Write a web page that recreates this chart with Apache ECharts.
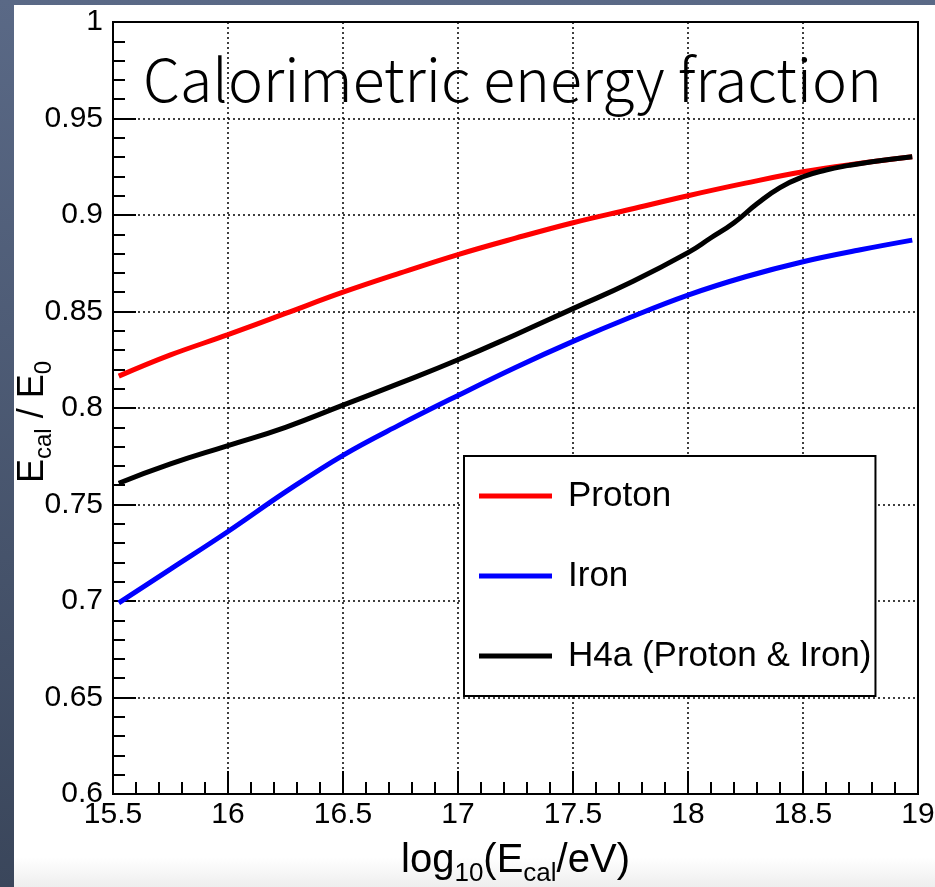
<!DOCTYPE html>
<html>
<head>
<meta charset="utf-8">
<script src="https://cdn.jsdelivr.net/npm/echarts@6/dist/echarts.min.js"></script>
<style>
  html, body { margin: 0; padding: 0; width: 935px; height: 887px; overflow: hidden; }
  body { background: linear-gradient(to bottom, #5a6986 0%, #3a465b 100%); position: relative; }
  #panel { position: absolute; left: 14px; top: 5px; width: 921px; height: 882px;
           background: linear-gradient(to bottom, #ffffff 0px, #ffffff 852px, #eeeeee 882px); }
  #chart { position: absolute; left: 0; top: 0; width: 935px; height: 887px; }
</style>
</head>
<body>
<div id="panel"></div>
<div id="chart"></div>
<script>
// ---- data ----
const xTicksMin = 15.5, xTicksMax = 19, xInterval = 0.5;
const yTicksMin = 0.6, yTicksMax = 1.0, yInterval = 0.05;

const protonX = [15.525, 15.75, 16.0, 16.25, 16.5, 16.75, 17.0, 17.25, 17.5, 17.75, 18.0, 18.25, 18.5, 18.75, 18.975];
const protonY = [0.8165, 0.8275, 0.838, 0.849, 0.8600, 0.870, 0.8795, 0.888, 0.896, 0.903, 0.910, 0.9165, 0.9224, 0.9268, 0.9302];

const ironX = [15.525, 15.75, 16.0, 16.25, 16.5, 16.75, 17.0, 17.25, 17.5, 17.75, 18.0, 18.25, 18.5, 18.75, 18.975];
const ironY = [0.699, 0.7165, 0.736, 0.7565, 0.7755, 0.7915, 0.8065, 0.821, 0.8345, 0.847, 0.8585, 0.868, 0.8758, 0.882, 0.887];

const h4aX = [15.525, 15.75, 16.0, 16.25, 16.5, 16.75, 17.0, 17.25, 17.5, 17.75, 18.0, 18.1, 18.2, 18.3, 18.4, 18.5, 18.6, 18.7, 18.8, 18.975];
const h4aY = [0.761, 0.771, 0.7805, 0.790, 0.8015, 0.813, 0.825, 0.838, 0.8515, 0.865, 0.8805, 0.8882, 0.8960, 0.9058, 0.9142, 0.9198, 0.9233, 0.9257, 0.9276, 0.9302];

const seriesNames = ['Proton', 'Iron', 'H4a (Proton & Iron)'];
const seriesColors = ['#ff0000', '#0000ff', '#000000'];

function pairs(xs, ys) { return xs.map((x, i) => [x, ys[i]]); }

const chart = echarts.init(document.getElementById('chart'), null, { renderer: 'canvas' });

const axisFont = 'Liberation Sans, Arial, Helvetica, sans-serif';

chart.setOption({
  backgroundColor: 'transparent',
  animation: false,
  title: {
    text: 'Calorimetric energy fraction',
    left: 138, top: 45,
    textStyle: { fontFamily: 'Noto Sans CJK JP', fontSize: 59, fontWeight: 300, color: '#000' }
  },
  grid: { left: 113, right: 17, top: 22, bottom: 93, outerBoundsMode: 'none', containLabel: false,
          show: true, borderColor: '#000', borderWidth: 2, backgroundColor: 'transparent' },
  legend: {
    data: seriesNames.map(n => ({ name: n, icon: 'rect' })),
    orient: 'vertical',
    left: 464, top: 456,
    padding: [20, 4, 20, 15],
    itemGap: 40,
    itemWidth: 73, itemHeight: 5,
    backgroundColor: '#fff',
    borderColor: '#000', borderWidth: 2, borderRadius: 0,
    selectedMode: false,
    textStyle: { fontFamily: axisFont, fontSize: 35, color: '#000', lineHeight: 40, padding: [0, 0, 0, 11] }
  },
  xAxis: {
    type: 'value', min: xTicksMin, max: xTicksMax, interval: xInterval,
    name: 'log{sub|10}(E{sub|cal}/eV)',
    nameLocation: 'middle', nameGap: 41,
    nameTextStyle: {
      fontFamily: axisFont, fontSize: 40, color: '#000',
      rich: { sub: { fontFamily: axisFont, fontSize: 26, color: '#000', padding: [26, 0, 0, 0] } }
    },
    axisLine: { show: true, onZero: false, lineStyle: { color: '#000', width: 2 } },
    axisTick: { show: true, inside: true, length: 23, lineStyle: { color: '#000', width: 2 } },
    minorTick: { show: true, splitNumber: 5, length: 12, lineStyle: { color: '#000', width: 2 } },
    axisLabel: { fontFamily: axisFont, fontSize: 30, color: '#000', margin: 6 },
    splitLine: { show: true, lineStyle: { color: '#000', width: 1.5, type: [2, 3] } }
  },
  yAxis: {
    type: 'value', min: yTicksMin, max: yTicksMax, interval: yInterval,
    name: 'E{sub|cal} / E{sub|0}',
    nameLocation: 'middle', nameGap: 57, nameMoveOverlap: false,
    nameTextStyle: {
      fontFamily: axisFont, fontSize: 36, color: '#000', padding: [0, 28, 0, 0],
      rich: { sub: { fontFamily: axisFont, fontSize: 24, color: '#000', padding: [22, 0, 0, 0] } }
    },
    axisLine: { show: true, onZero: false, lineStyle: { color: '#000', width: 2 } },
    axisTick: { show: true, inside: true, length: 23, lineStyle: { color: '#000', width: 2 } },
    minorTick: { show: true, splitNumber: 5, length: 12, lineStyle: { color: '#000', width: 2 } },
    axisLabel: { fontFamily: axisFont, fontSize: 30, color: '#000', margin: 10 },
    splitLine: { show: true, lineStyle: { color: '#000', width: 1.5, type: [2, 3] } }
  },
  series: [
    { name: seriesNames[0], type: 'line', data: pairs(protonX, protonY), smooth: 0.4, symbol: 'none', z: 3,
      lineStyle: { color: seriesColors[0], width: 5 }, itemStyle: { color: seriesColors[0] } },
    { name: seriesNames[1], type: 'line', data: pairs(ironX, ironY), smooth: 0.4, symbol: 'none', z: 3,
      lineStyle: { color: seriesColors[1], width: 5 }, itemStyle: { color: seriesColors[1] } },
    { name: seriesNames[2], type: 'line', data: pairs(h4aX, h4aY), smooth: 0.5, symbol: 'none', z: 4,
      lineStyle: { color: seriesColors[2], width: 5 }, itemStyle: { color: seriesColors[2] } }
  ]
});
</script>
</body>
</html>
